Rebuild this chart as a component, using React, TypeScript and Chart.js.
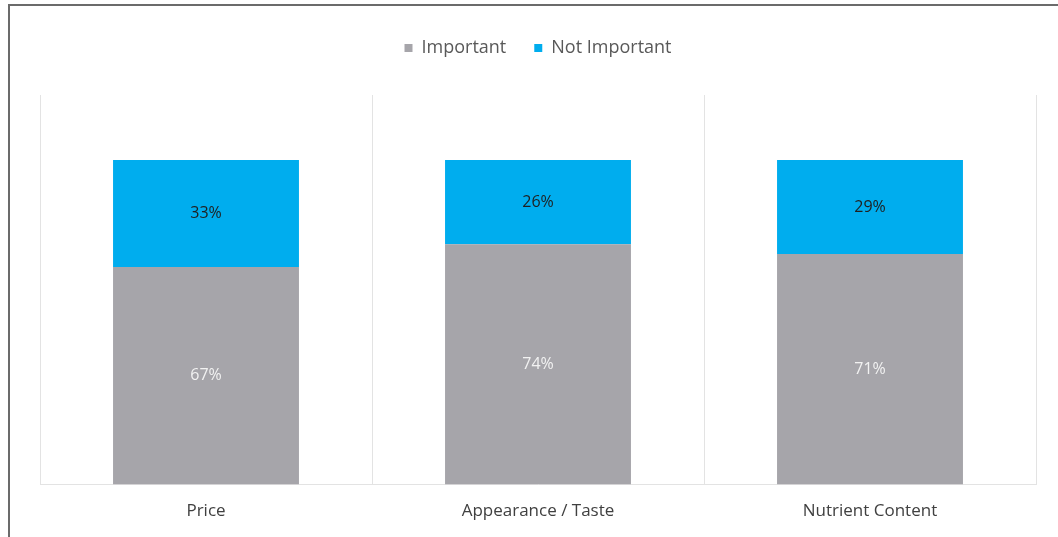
import React, { useEffect, useRef } from "react";
import { Chart, registerables } from "chart.js";

Chart.register(...registerables);

const categories = ["Price", "Appearance / Taste", "Nutrient Content"];
const importantValues = [67, 74, 71];
const notImportantValues = [33, 26, 29];
const seriesNames = ["Important", "Not Important"];

const GREY = "#A6A5AA";
const BLUE = "#00ADEE";
const FONT = "'Open Sans', 'Noto Sans', sans-serif";

const dataLabelPlugin = {
  id: "dataLabels",
  afterDatasetsDraw(chart: any) {
    const ctx = chart.ctx;
    ctx.save();
    ctx.textAlign = "center";
    ctx.textBaseline = "middle";
    ctx.font = `16px ${FONT}`;
    chart.data.datasets.forEach((ds: any, di: number) => {
      const meta = chart.getDatasetMeta(di);
      meta.data.forEach((el: any, i: number) => {
        const { x, y, base } = el.getProps(["x", "y", "base"], true);
        ctx.fillStyle = di === 0 ? "#F2F2F2" : "#1F1F1F";
        ctx.fillText(`${ds.data[i]}%`, x, (y + base) / 2);
      });
    });
    ctx.restore();
  },
};

const legendSpacer = {
  id: "legendSpacer",
  beforeInit(chart: any) {
    const legend = chart.legend;
    if (!legend) return;
    const orig = legend.fit;
    legend.fit = function () {
      orig.call(legend);
      this.height += 28;
    };
  },
};

export default function App() {
  const ref = useRef<HTMLCanvasElement | null>(null);
  useEffect(() => {
    if (!ref.current) return;
    const chart = new Chart(ref.current, {
      type: "bar",
      data: {
        labels: categories,
        datasets: [
          {
            label: seriesNames[0],
            data: importantValues,
            backgroundColor: GREY,
            barPercentage: 0.56,
            categoryPercentage: 1,
          },
          {
            label: seriesNames[1],
            data: notImportantValues,
            backgroundColor: BLUE,
            barPercentage: 0.56,
            categoryPercentage: 1,
          },
        ],
      },
      options: {
        animation: false,
        responsive: false,
        devicePixelRatio: 1,
        layout: { padding: { left: 40, right: 22, top: 11, bottom: 0 } },
        plugins: {
          tooltip: { enabled: false },
          legend: {
            position: "top",
            labels: {
              boxWidth: 8,
              boxHeight: 8,
              padding: 28,
              color: "#595959",
              font: { family: FONT, size: 18 },
            },
          },
        },
        scales: {
          x: {
            stacked: true,
            grid: {
              display: true,
              drawTicks: false,
              color: "#E3E3E3",
              lineWidth: 1,
              offset: true,
            },
            border: { display: true, color: "#E3E3E3", width: 1 },
            ticks: {
              padding: 16,
              color: "#404040",
              font: { family: FONT, size: 17 },
            },
          },
          y: {
            stacked: true,
            display: false,
            min: 0,
            max: 120,
          },
        },
      },
      plugins: [dataLabelPlugin, legendSpacer],
    });
    return () => chart.destroy();
  }, []);

  return (
    <div style={{ position: "fixed", left: 0, top: 0, width: 1058, height: 537, background: "#fff" }}>
      <canvas ref={ref} width={1058} height={537} style={{ position: "absolute", left: 0, top: 0 }} />
      <div
        style={{
          position: "absolute",
          left: 8,
          top: 4,
          width: 1100,
          height: 600,
          borderTop: "2px solid #6B6B6B",
          borderLeft: "2px solid #6B6B6B",
          pointerEvents: "none",
        }}
      />
    </div>
  );
}
